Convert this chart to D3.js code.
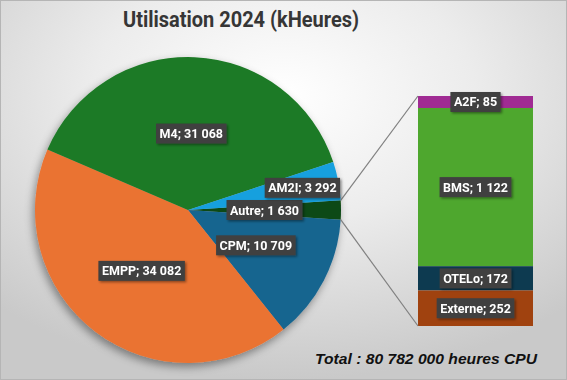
<!DOCTYPE html>
<html><head><meta charset="utf-8">
<script src="https://cdn.jsdelivr.net/npm/d3@7"></script>
<style>html,body{margin:0;padding:0;background:#fff;}svg{display:block;}</style>
</head><body>
<script>
const pieCategories = ["Autre", "CPM", "EMPP", "M4", "AM2I"];
const pieValues = [1630, 10709, 34082, 31068, 3292];
const pieColors = ["#0f4a14", "#19658f", "#ea7332", "#1d7a26", "#17a0de"];
const barCategories = ["A2F", "BMS", "OTELo", "Externe"];
const barValues = [85, 1122, 172, 252];
const barColors = ["#a02b93", "#4ea72e", "#0d3a50", "#a0420f"];
const titleText = "Utilisation 2024 (kHeures)";
const totalText = "Total : 80 782 000 heures CPU";
const fmt = v => d3.format(",")(v).replace(/,/g, " ");

const W = 567, H = 380;
const svg = d3.select("body").append("svg").attr("width", W).attr("height", H);
const defs = svg.append("defs");
const rg = defs.append("radialGradient").attr("id", "bg").attr("cx", "0.5").attr("cy", "0.25").attr("r", "0.75");
rg.append("stop").attr("offset", "0").attr("stop-color", "#ffffff");
rg.append("stop").attr("offset", "0.45").attr("stop-color", "#ececec");
rg.append("stop").attr("offset", "1").attr("stop-color", "#c9c9c9");
const sh = defs.append("filter").attr("id", "pieShadow").attr("x", "-20%").attr("y", "-20%").attr("width", "140%").attr("height", "140%");
sh.append("feDropShadow").attr("dx", -2).attr("dy", 4).attr("stdDeviation", 4.5).attr("flood-color", "#000").attr("flood-opacity", 0.4);
const lsh = defs.append("filter").attr("id", "lblShadow").attr("x", "-20%").attr("y", "-30%").attr("width", "140%").attr("height", "160%");
lsh.append("feDropShadow").attr("dx", 1.5).attr("dy", 1.5).attr("stdDeviation", 1).attr("flood-color", "#000").attr("flood-opacity", 0.4);

svg.append("rect").attr("x", 0).attr("y", 0).attr("width", W).attr("height", H).attr("fill", "url(#bg)");
svg.append("rect").attr("x", 0.5).attr("y", 0.5).attr("width", W - 1).attr("height", H - 1)
  .attr("fill", "none").attr("stroke", "#b5b5b5").attr("stroke-width", 1);

// Title
svg.append("text").attr("x", 123).attr("y", 27)
  .attr("font-family", "Roboto, 'DejaVu Sans', sans-serif")
  .attr("font-weight", "bold").attr("font-size", 22).attr("fill", "#363636")
  .attr("textLength", 236).attr("lengthAdjust", "spacingAndGlyphs").text(titleText);

// Pie
const cx = 188, cy = 210, R = 153;
const total = d3.sum(pieValues);
const a0 = (pieValues[0] / total) * 2 * Math.PI;
const pie = d3.pie().sort(null).startAngle(Math.PI / 2 - a0 / 2).endAngle(Math.PI / 2 - a0 / 2 + 2 * Math.PI);
const arcs = pie(pieValues);
const arc = d3.arc().innerRadius(0).outerRadius(R);
const gPie = svg.append("g").attr("transform", `translate(${cx},${cy})`);
gPie.append("g").attr("filter", "url(#pieShadow)").selectAll("path").data(arcs).join("path")
  .attr("d", arc).attr("fill", (d, i) => pieColors[i]);

// Bar (pie of bar)
const barX = 418, barW = 115, barTop = 96, barBot = 326;
const y = d3.scaleLinear().domain([0, d3.sum(barValues)]).range([barTop, barBot]);
const cum = barValues.map((v, i) => d3.sum(barValues.slice(0, i)));
const gBar = svg.append("g");
gBar.selectAll("rect").data(barValues).join("rect")
  .attr("x", barX).attr("width", barW)
  .attr("y", (d, i) => y(cum[i])).attr("height", d => y(d) - y(0))
  .attr("fill", (d, i) => barColors[i]);

// Connector lines
const aS = arcs[0].startAngle, aE = arcs[0].endAngle;
const pS = [cx + R * Math.sin(aS), cy - R * Math.cos(aS)];
const pE = [cx + R * Math.sin(aE), cy - R * Math.cos(aE)];
svg.append("line").attr("x1", pS[0]).attr("y1", pS[1]).attr("x2", barX).attr("y2", barTop)
  .attr("stroke", "#808080").attr("stroke-width", 1.2);
svg.append("line").attr("x1", pE[0]).attr("y1", pE[1]).attr("x2", barX).attr("y2", barBot)
  .attr("stroke", "#808080").attr("stroke-width", 1.2);

// Labels
const lblFont = "Roboto, 'Noto Sans', sans-serif";
function label(x, yy, txt) {
  const g = svg.append("g").attr("filter", "url(#lblShadow)");
  const t = g.append("text").attr("x", x).attr("y", yy).attr("text-anchor", "middle").attr("dy", "0.36em")
    .attr("font-family", lblFont).attr("font-weight", "bold").attr("font-size", 12.5).attr("fill", "#fff").text(txt);
  const bb = t.node().getBBox();
  g.insert("rect", "text").attr("x", x - bb.width / 2 - 3.5).attr("y", yy - 10).attr("width", bb.width + 7).attr("height", 20)
    .attr("fill", "#404040");
  return {x, y: yy, w: bb.width + 7, h: 20};
}
// pie labels at half radius, pushed outward on collision
const placed = [];
arcs.forEach((d, i) => {
  const m = (d.startAngle + d.endAngle) / 2;
  let r = R * 0.5;
  let px, py;
  const txt = pieCategories[i] + "; " + fmt(pieValues[i]);
  const estW = txt.length * 6.8 + 7;
  for (let k = 0; k < 200; k++) {
    px = cx + r * Math.sin(m); py = cy - r * Math.cos(m);
    const hit = placed.some(p => Math.abs(p.x - px) < (p.w + estW) / 2 && Math.abs(p.y - py) < 22);
    if (!hit) break;
    r += 1;
  }
  placed.push(label(px, py, txt));
});
barValues.forEach((v, i) => {
  label(barX + barW / 2, (y(cum[i]) + y(cum[i] + v)) / 2, barCategories[i] + "; " + fmt(v));
});

// Total
svg.append("text").attr("x", 315).attr("y", 364)
  .attr("font-family", "'Liberation Sans', Arial, sans-serif").attr("font-weight", "bold").attr("font-style", "italic")
  .attr("font-size", 15.5).attr("fill", "#111")
  .attr("textLength", 222).attr("lengthAdjust", "spacingAndGlyphs").text(totalText);
</script>
</body></html>
